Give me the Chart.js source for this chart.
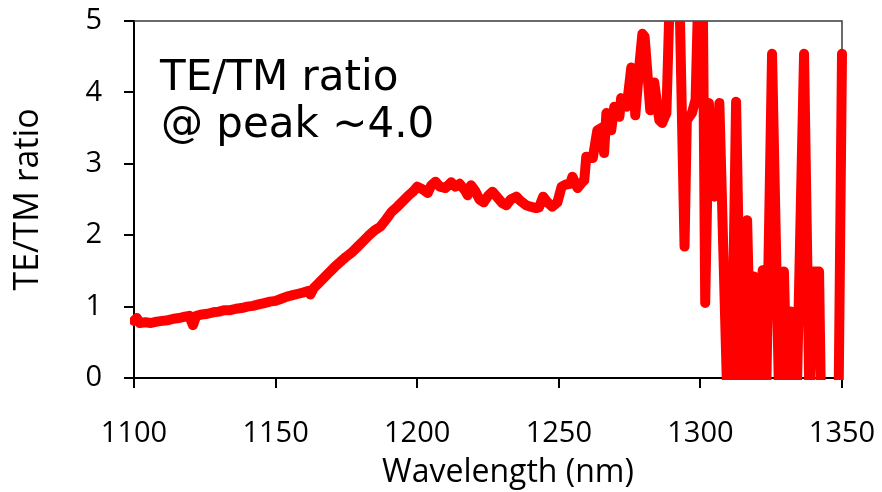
<!DOCTYPE html>
<html>
<head>
<meta charset="utf-8">
<script src="https://cdn.jsdelivr.net/npm/chart.js@4.4.1/dist/chart.umd.min.js"></script>
<style>
  html, body { margin: 0; padding: 0; background: #ffffff; }
  #wrap { width: 882px; height: 492px; position: relative; }
</style>
</head>
<body>
<div id="wrap"><canvas id="c" width="882" height="492"></canvas></div>
<script>
// ---- data ----
const wavelengths = [
  1100, 1101, 1102, 1104, 1106, 1108, 1110, 1112, 1114, 1116, 1118, 1119.5, 1120.8, 1122, 1124, 1126, 1128, 1130,
  1132, 1134, 1136, 1138, 1140, 1142, 1144, 1146, 1148, 1150, 1152, 1154, 1156, 1158, 1160, 1161.5, 1162.3, 1163.5,
  1165, 1167, 1169, 1171, 1173, 1175, 1177, 1179, 1181, 1183, 1185, 1187, 1189, 1191, 1193, 1195, 1197, 1198.5,
  1200, 1202, 1203.7, 1205, 1206.5, 1208, 1210, 1212, 1213.5, 1215, 1217, 1217.8, 1219, 1220.5, 1222, 1223.5,
  1225, 1226.6, 1228.5, 1230, 1231.5, 1233, 1235, 1236.5, 1238.5, 1240, 1242, 1243, 1244.5, 1246, 1247.7, 1249.5,
  1251, 1252.5, 1254, 1254.8, 1256.6, 1258, 1259, 1259.7, 1262, 1263.6, 1265.4, 1266, 1266.8, 1268.5, 1269.6,
  1271.4, 1272, 1274, 1275.6, 1276.3, 1277, 1278.5, 1279.5, 1280.3, 1282.3, 1283.7, 1285.5, 1286.5, 1288,
  1289.5, 1291, 1292.5, 1294.4, 1295.2, 1297, 1298.3, 1299.5, 1300.8, 1301.7, 1303, 1304.2, 1305, 1306.7,
  1309.5, 1311, 1312.6, 1314.5, 1316.5, 1318, 1319, 1320.2, 1322, 1323.2, 1325.3, 1327.8, 1329.5, 1330.6,
  1332, 1333.1, 1334, 1336.6, 1338.5, 1340, 1341.9, 1343, 1348.5, 1350
];
const teTmRatio = [
  0.80, 0.84, 0.77, 0.78, 0.77, 0.79, 0.80, 0.81, 0.83, 0.84, 0.86, 0.87, 0.74, 0.87, 0.89, 0.90, 0.92, 0.93,
  0.95, 0.95, 0.97, 0.98, 1.00, 1.01, 1.03, 1.05, 1.07, 1.08, 1.11, 1.14, 1.16, 1.18, 1.20, 1.22, 1.17, 1.26,
  1.32, 1.40, 1.48, 1.56, 1.63, 1.70, 1.76, 1.84, 1.92, 2.00, 2.07, 2.12, 2.22, 2.33, 2.40, 2.48, 2.56, 2.61,
  2.68, 2.64, 2.59, 2.70, 2.75, 2.68, 2.66, 2.74, 2.68, 2.72, 2.62, 2.56, 2.70, 2.62, 2.50, 2.46,
  2.55, 2.61, 2.52, 2.45, 2.42, 2.50, 2.54, 2.48, 2.42, 2.40, 2.38, 2.39, 2.54, 2.46, 2.40, 2.46,
  2.68, 2.71, 2.72, 2.82, 2.66, 2.73, 2.77, 3.10, 3.08, 3.47, 3.51, 3.15, 3.71, 3.47, 3.80,
  3.66, 3.92, 3.80, 4.35, 4.31, 3.68, 4.40, 4.82, 4.78, 3.75, 4.14, 3.61, 3.57, 3.71,
  5.8, 6.0, 5.6, 1.84, 3.61, 3.71, 3.90, 5.8, 5.6, 1.05, 3.85, 2.59, 2.54, 3.85,
  -0.3, -0.3, 3.87, -0.3, 2.21, -0.3, 1.42, -0.3, 1.51, -0.3, 4.54, -0.3, 1.49, -0.3,
  0.93, 0.91, -0.3, 4.54, -0.3, 1.49, 1.49, -1.5, -1.5, 4.54
];
const xTicks = [1100, 1150, 1200, 1250, 1300, 1350];
const yTicks = [0, 1, 2, 3, 4, 5];
const annotationLines = ['TE/TM ratio', '@ peak ~4.0'];

const points = wavelengths.map((w, i) => ({ x: w, y: teTmRatio[i] }));

const axisFont = 'Open Sans';

const framePlugin = {
  id: 'frame',
  beforeDatasetsDraw(chart) {
    const { ctx, chartArea: a } = chart;
    ctx.save();
    ctx.strokeStyle = '#3a3a3a';
    ctx.lineWidth = 1.5;
    ctx.beginPath();
    ctx.moveTo(a.left, a.top);
    ctx.lineTo(a.right, a.top);
    ctx.lineTo(a.right, a.bottom);
    ctx.stroke();
    ctx.restore();
  }
};

const titleShiftPlugin = {
  id: 'titleShift',
  beforeDraw(chart) {
    const sx = chart.scales.x;
    if (sx && !sx._shiftPatched) {
      const orig = sx.drawTitle.bind(sx);
      sx.drawTitle = function () {
        const c = this.ctx;
        c.save();
        c.translate(20, 0);
        orig();
        c.restore();
      };
      sx._shiftPatched = true;
    }
  }
};

const annotationPlugin = {
  id: 'annot',
  afterDraw(chart) {
    const { ctx } = chart;
    ctx.save();
    ctx.fillStyle = '#000000';
    ctx.font = '42px "DejaVu Sans"';
    ctx.textAlign = 'left';
    ctx.textBaseline = 'alphabetic';
    ctx.fillText(annotationLines[0], 160, 90);
    ctx.fillText(annotationLines[1], 161, 137);
    ctx.restore();
  }
};

function noEdgePadding(scale) {
  scale.paddingLeft = 0;
  scale.paddingRight = 0;
  scale.paddingTop = 0;
  scale.paddingBottom = 0;
}

new Chart(document.getElementById('c'), {
  type: 'line',
  data: {
    datasets: [{
      label: 'TE/TM ratio',
      data: points,
      borderColor: '#ff0000',
      backgroundColor: '#ff0000',
      borderWidth: 10,
      pointRadius: 0,
      tension: 0,
      borderJoinStyle: 'round',
      borderCapStyle: 'round',
      fill: false,
      clip: { left: 4, top: 0, right: 5, bottom: 2 }
    }]
  },
  options: {
    responsive: false,
    animation: false,
    layout: { padding: { left: 0, top: 21, right: 40, bottom: 0 } },
    plugins: { legend: { display: false }, tooltip: { enabled: false } },
    scales: {
      x: {
        type: 'linear',
        min: 1100,
        max: 1350,
        afterBuildTicks(scale) { scale.ticks = xTicks.map(v => ({ value: v })); },
        afterFit(scale) { scale.height = 114; noEdgePadding(scale); },
        ticks: { color: '#000', font: { family: axisFont, size: 29 }, padding: 28, maxRotation: 0, autoSkip: false,
                 callback: v => String(v) },
        grid: { display: true, drawOnChartArea: false, drawTicks: true, tickLength: 10, color: '#000', lineWidth: 2 },
        border: { display: true, color: '#000', width: 2 },
        title: { display: true, text: 'Wavelength (nm)', color: '#000', font: { family: axisFont, size: 32 }, padding: { top: 0, bottom: 0 } }
      },
      y: {
        type: 'linear',
        min: 0,
        max: 5,
        afterBuildTicks(scale) { scale.ticks = yTicks.map(v => ({ value: v })); },
        afterFit(scale) { scale.width = 134; noEdgePadding(scale); },
        ticks: { color: '#000', font: { family: axisFont, size: 29 }, padding: 22, callback: v => String(v) },
        grid: { display: true, drawOnChartArea: false, drawTicks: true, tickLength: 10, color: '#000', lineWidth: 2 },
        border: { display: true, color: '#000', width: 2 },
        title: { display: true, text: 'TE/TM ratio', color: '#000', font: { family: axisFont, size: 34 }, padding: { top: 8, bottom: 0 } }
      }
    }
  },
  plugins: [framePlugin, titleShiftPlugin, annotationPlugin]
});
</script>
</body>
</html>
